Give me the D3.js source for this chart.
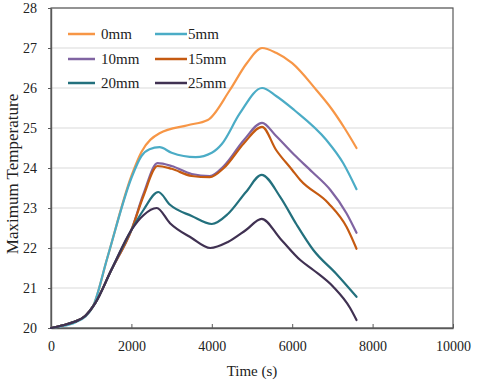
<!DOCTYPE html>
<html>
<head>
<meta charset="utf-8">
<script src="https://cdn.jsdelivr.net/npm/d3@7"></script>
<style>
  body { margin: 0; background: #fff; }
  text { font-family: "Liberation Serif", "Times New Roman", serif; fill: #222; }
</style>
</head>
<body>
<svg id="chart"></svg>
<script>
// series names and colours
const seriesNames = ["0mm", "5mm", "10mm", "15mm", "20mm", "25mm"];
const seriesColors = ["#F79646", "#4BACC6", "#8064A2", "#C55A11", "#23707D", "#403152"];

// time (s), temperature pairs
const s0mm = [[0,20],[300,20.07],[600,20.16],[850,20.3],[1050,20.55],[1400,21.75],[2000,23.8],[2250,24.4],[2700,24.87],[3400,25.07],[3900,25.2],[4450,25.95],[4870,26.62],[5250,27.0],[5600,26.88],[6000,26.62],[6600,25.95],[7000,25.45],[7300,25.0],[7600,24.5]];
const s5mm = [[0,20],[300,20.05],[600,20.14],[850,20.28],[1050,20.55],[1400,21.75],[2000,23.75],[2250,24.3],[2450,24.47],[2700,24.52],[3000,24.38],[3600,24.27],[4000,24.38],[4250,24.6],[4700,25.37],[5250,26.0],[5600,25.8],[6050,25.45],[6850,24.7],[7270,24.12],[7600,23.47]];
const s10mm = [[0,20],[300,20.07],[600,20.16],[850,20.3],[1100,20.62],[1500,21.45],[2000,22.45],[2300,23.35],[2650,24.12],[3000,24.05],[3500,23.85],[3950,23.8],[4300,24.05],[4800,24.7],[5250,25.13],[5600,24.8],[6050,24.33],[6500,23.9],[6950,23.45],[7350,22.87],[7600,22.38]];
const s15mm = [[0,20],[300,20.07],[600,20.16],[850,20.3],[1100,20.62],[1500,21.45],[2000,22.45],[2300,23.3],[2650,24.05],[3000,23.98],[3500,23.8],[3950,23.77],[4300,24.0],[4800,24.62],[5250,25.03],[5600,24.45],[6000,23.95],[6200,23.7],[6900,23.12],[7350,22.53],[7600,21.98]];
const s20mm = [[0,20],[300,20.07],[600,20.16],[850,20.3],[1100,20.62],[1500,21.45],[2000,22.45],[2300,22.95],[2670,23.4],[2960,23.08],[3500,22.8],[4000,22.6],[4400,22.85],[4850,23.4],[5240,23.83],[5700,23.28],[6100,22.6],[6525,21.95],[7100,21.35],[7600,20.78]];
const s25mm = [[0,20],[300,20.07],[600,20.16],[850,20.3],[1100,20.62],[1500,21.45],[2000,22.45],[2300,22.82],[2630,23.0],[2960,22.62],[3500,22.25],[3960,22.0],[4400,22.15],[4850,22.45],[5240,22.73],[5700,22.24],[6200,21.7],[6525,21.45],[7020,21.03],[7440,20.5],[7600,20.2]];
const seriesValues = [s0mm, s5mm, s10mm, s15mm, s20mm, s25mm];

// axes
const xTicks = [0, 2000, 4000, 6000, 8000, 10000];
const yTicks = [20, 21, 22, 23, 24, 25, 26, 27, 28];

const width = 480, height = 381;
const plotLeft = 51, plotRight = 453, plotTop = 8, plotBottom = 328;

const svg = d3.select("#chart").attr("width", width).attr("height", height);

const x = d3.scaleLinear().domain([0, 10000]).range([plotLeft, plotRight]);
const y = d3.scaleLinear().domain([20, 28]).range([plotBottom, plotTop]);

// gridlines
svg.append("g")
  .selectAll("line")
  .data(yTicks)
  .enter()
  .append("line")
  .attr("x1", plotLeft).attr("x2", plotRight)
  .attr("y1", d => y(d)).attr("y2", d => y(d))
  .style("stroke", "#d9d9d9")
  .style("stroke-width", 1);

// frame
svg.append("rect")
  .attr("x", plotLeft).attr("y", plotTop)
  .attr("width", plotRight - plotLeft).attr("height", plotBottom - plotTop)
  .style("fill", "none")
  .style("stroke", "#595959")
  .style("stroke-width", 1.2);

// x axis, ticks pointing inward
const xAxis = svg.append("g")
  .attr("transform", `translate(0,${plotBottom})`)
  .call(d3.axisBottom(x).tickValues(xTicks).tickFormat(d3.format("d"))
    .tickSizeInner(-4).tickSizeOuter(0).tickPadding(13));
xAxis.select(".domain").style("stroke", "#595959").style("stroke-width", 1.4);
xAxis.selectAll(".tick line").style("stroke", "#595959");
xAxis.selectAll("text").style("font-size", "14px").style("font-family", "Liberation Serif").attr("fill", "#222");

// y axis
const yAxis = svg.append("g")
  .attr("transform", `translate(${plotLeft},0)`)
  .call(d3.axisLeft(y).tickValues(yTicks).tickFormat(d3.format("d"))
    .tickSizeInner(3).tickSizeOuter(0).tickPadding(11));
yAxis.select(".domain").style("stroke", "#595959").style("stroke-width", 1.4);
yAxis.selectAll(".tick line").style("stroke", "#595959");
yAxis.selectAll("text").style("font-size", "14px").style("font-family", "Liberation Serif").attr("fill", "#222");

// axis titles
svg.append("text")
  .attr("x", (plotLeft + plotRight) / 2)
  .attr("y", 376)
  .style("font-size", "15px")
  .style("text-anchor", "middle")
  .text("Time (s)");

svg.append("text")
  .attr("transform", "translate(18,174) rotate(-90)")
  .style("font-size", "17px")
  .style("text-anchor", "middle")
  .text("Maximum Temperature");

// lines
const line = d3.line()
  .x(d => x(d[0]))
  .y(d => y(d[1]))
  .curve(d3.curveMonotoneX);

svg.append("g")
  .selectAll("path")
  .data(seriesValues)
  .enter()
  .append("path")
  .attr("d", d => line(d))
  .style("fill", "none")
  .style("stroke", (d, i) => seriesColors[i])
  .style("stroke-width", 2.2)
  .style("stroke-linejoin", "round")
  .style("stroke-linecap", "round");

// legend, two columns
const legendCols = [{ x1: 68, x2: 95, tx: 101 }, { x1: 155, x2: 187, tx: 188 }];
const legendRows = [34, 59, 83];

const legend = svg.append("g")
  .selectAll("g")
  .data(seriesNames)
  .enter()
  .append("g");

legend.append("line")
  .attr("x1", (d, i) => legendCols[i % 2].x1)
  .attr("x2", (d, i) => legendCols[i % 2].x2)
  .attr("y1", (d, i) => legendRows[Math.floor(i / 2)])
  .attr("y2", (d, i) => legendRows[Math.floor(i / 2)])
  .style("stroke", (d, i) => seriesColors[i])
  .style("stroke-width", 2.5);

legend.append("text")
  .attr("x", (d, i) => legendCols[i % 2].tx)
  .attr("y", (d, i) => legendRows[Math.floor(i / 2)])
  .attr("dy", "0.35em")
  .style("font-size", "15px")
  .text(d => d);
</script>
</body>
</html>
